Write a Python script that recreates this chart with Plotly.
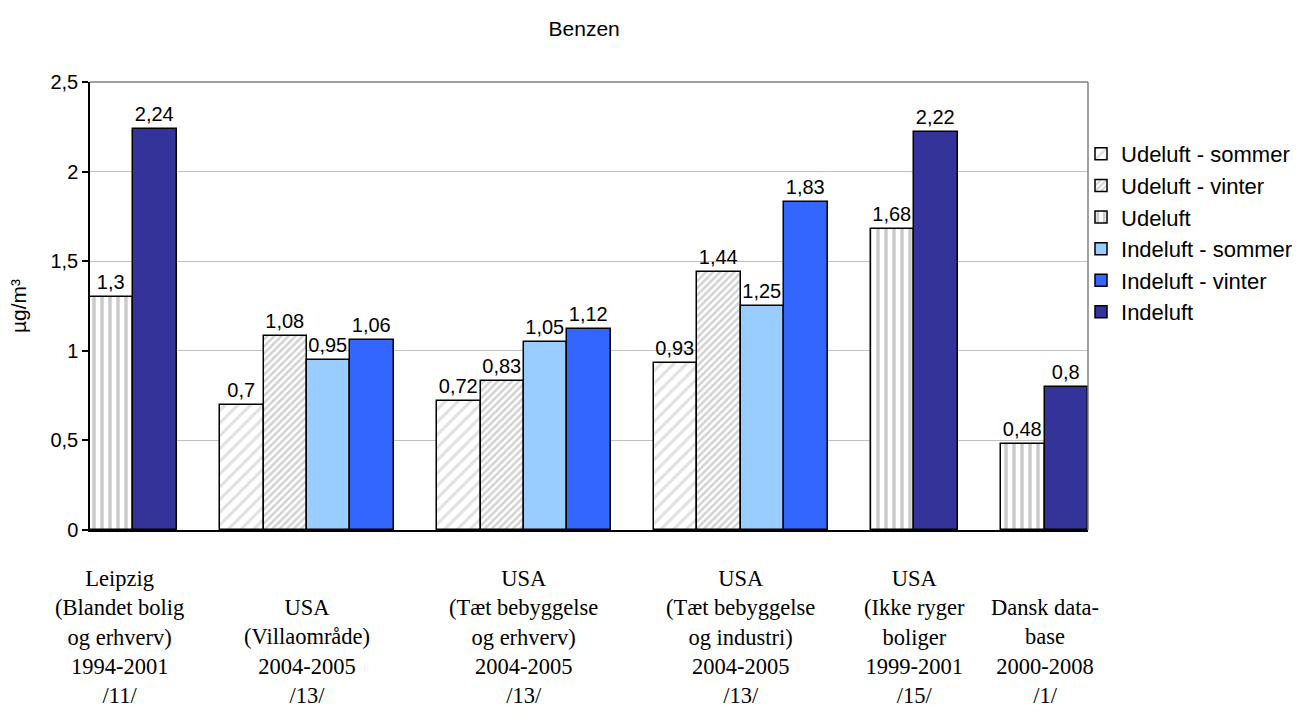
import plotly.graph_objects as go

# Sites / studies along the x axis
categories = [
    "Leipzig<br>(Blandet bolig<br>og erhverv)<br>1994-2001<br>/11/",
    "USA<br>(Villaområde)<br>2004-2005<br>/13/",
    "USA<br>(Tæt bebyggelse<br>og erhverv)<br>2004-2005<br>/13/",
    "USA<br>(Tæt bebyggelse<br>og industri)<br>2004-2005<br>/13/",
    "USA<br>(Ikke ryger<br>boliger<br>1999-2001<br>/15/",
    "Dansk data-<br>base<br>2000-2008<br>/1/",
]

# Benzene concentrations (µg/m³); None = not measured at that site
udeluft_sommer = [None, 0.70, 0.72, 0.93, None, None]
udeluft_vinter = [None, 1.08, 0.83, 1.44, None, None]
udeluft = [1.30, None, None, None, 1.68, 0.48]
indeluft_sommer = [None, 0.95, 1.05, 1.25, None, None]
indeluft_vinter = [None, 1.06, 1.12, 1.83, None, None]
indeluft = [2.24, None, None, None, 2.22, 0.80]

y_ticks = [0, 0.5, 1, 1.5, 2, 2.5]

series = [
    ("Udeluft - sommer", udeluft_sommer,
     dict(color="white", pattern=dict(shape="/", fgcolor="#c4c4c4", bgcolor="white", size=9, solidity=0.35))),
    ("Udeluft - vinter", udeluft_vinter,
     dict(color="white", pattern=dict(shape="/", fgcolor="#a6a6a6", bgcolor="white", size=5, solidity=0.5))),
    ("Udeluft", udeluft,
     dict(color="white", pattern=dict(shape="|", fgcolor="#9a9a9a", bgcolor="white", size=8, solidity=0.45))),
    ("Indeluft - sommer", indeluft_sommer, dict(color="#99ccff")),
    ("Indeluft - vinter", indeluft_vinter, dict(color="#3366ff")),
    ("Indeluft", indeluft, dict(color="#333399")),
]

# Bars of a site sit side by side; sites are separated by one empty slot.
slot = 0
positions = {name: ([], []) for name, _, _ in series}
centers = []
for i in range(len(categories)):
    present = [(name, vals[i]) for name, vals, _ in series if vals[i] is not None]
    centers.append(slot + (len(present) - 1) / 2)
    for name, v in present:
        positions[name][0].append(slot)
        positions[name][1].append(v)
        slot += 1
    slot += 1
n_slots = slot - 1


def fmt(v):
    return f"{v:g}".replace(".", ",")


fig = go.Figure()
for name, _, marker in series:
    xs, ys = positions[name]
    fig.add_trace(go.Bar(
        x=xs, y=ys, name=name, width=1,
        marker=dict(**marker, line=dict(color="black", width=1.5)),
        text=[fmt(v) for v in ys], textposition="outside",
        textfont=dict(family="Liberation Sans, Arial", size=20, color="black"),
        cliponaxis=False,
    ))

for i, (c, label) in enumerate(zip(centers, categories)):
    fig.add_annotation(
        x=c, y=-0.402, xref="x", yref="paper", text=label, showarrow=False,
        xanchor="center", yanchor="bottom", align="center",
        xshift=-14 if i == 0 else 0,
        font=dict(family="Liberation Serif, Times New Roman", size=22.5, color="black"),
    )

# grey frame on top and right of the plot area
fig.add_shape(type="line", xref="paper", yref="paper", x0=0, x1=1, y0=1, y1=1,
              line=dict(color="#808080", width=1.5))
fig.add_shape(type="line", xref="paper", yref="paper", x0=1, x1=1, y0=0, y1=1,
              line=dict(color="#808080", width=1.5))

fig.update_layout(
    width=1304, height=712,
    margin=dict(l=90, r=216, t=82, b=182, autoexpand=False),
    paper_bgcolor="white", plot_bgcolor="white",
    title=dict(text="Benzen", x=0.448, xanchor="center", y=0.96, yanchor="middle",
               font=dict(family="Liberation Sans, Arial", size=21, color="black")),
    barmode="overlay", bargap=0,
    showlegend=True,
    legend=dict(x=0.993, y=0.886, xanchor="left", yanchor="top",
                font=dict(family="Liberation Sans, Arial", size=22, color="black"),
                tracegroupgap=0, bgcolor="rgba(0,0,0,0)"),
    font=dict(family="Liberation Sans, Arial", color="black"),
    xaxis=dict(range=[-0.5, n_slots - 0.5], showticklabels=False, ticks="",
               showgrid=False, zeroline=False, showline=True, linecolor="black", linewidth=1.5),
    yaxis=dict(range=[0, 2.5], tickvals=y_ticks, ticktext=[fmt(v) for v in y_ticks],
               ticks="outside", ticklen=6, tickcolor="black", tickwidth=1.5,
               tickfont=dict(size=20, color="black"),
               showgrid=True, gridcolor="#c0c0c0", gridwidth=1, zeroline=False,
               showline=True, linecolor="black", linewidth=1.5,
               title=dict(text="µg/m³", font=dict(size=21, color="black"), standoff=18)),
)

fig.write_html("out.html")
